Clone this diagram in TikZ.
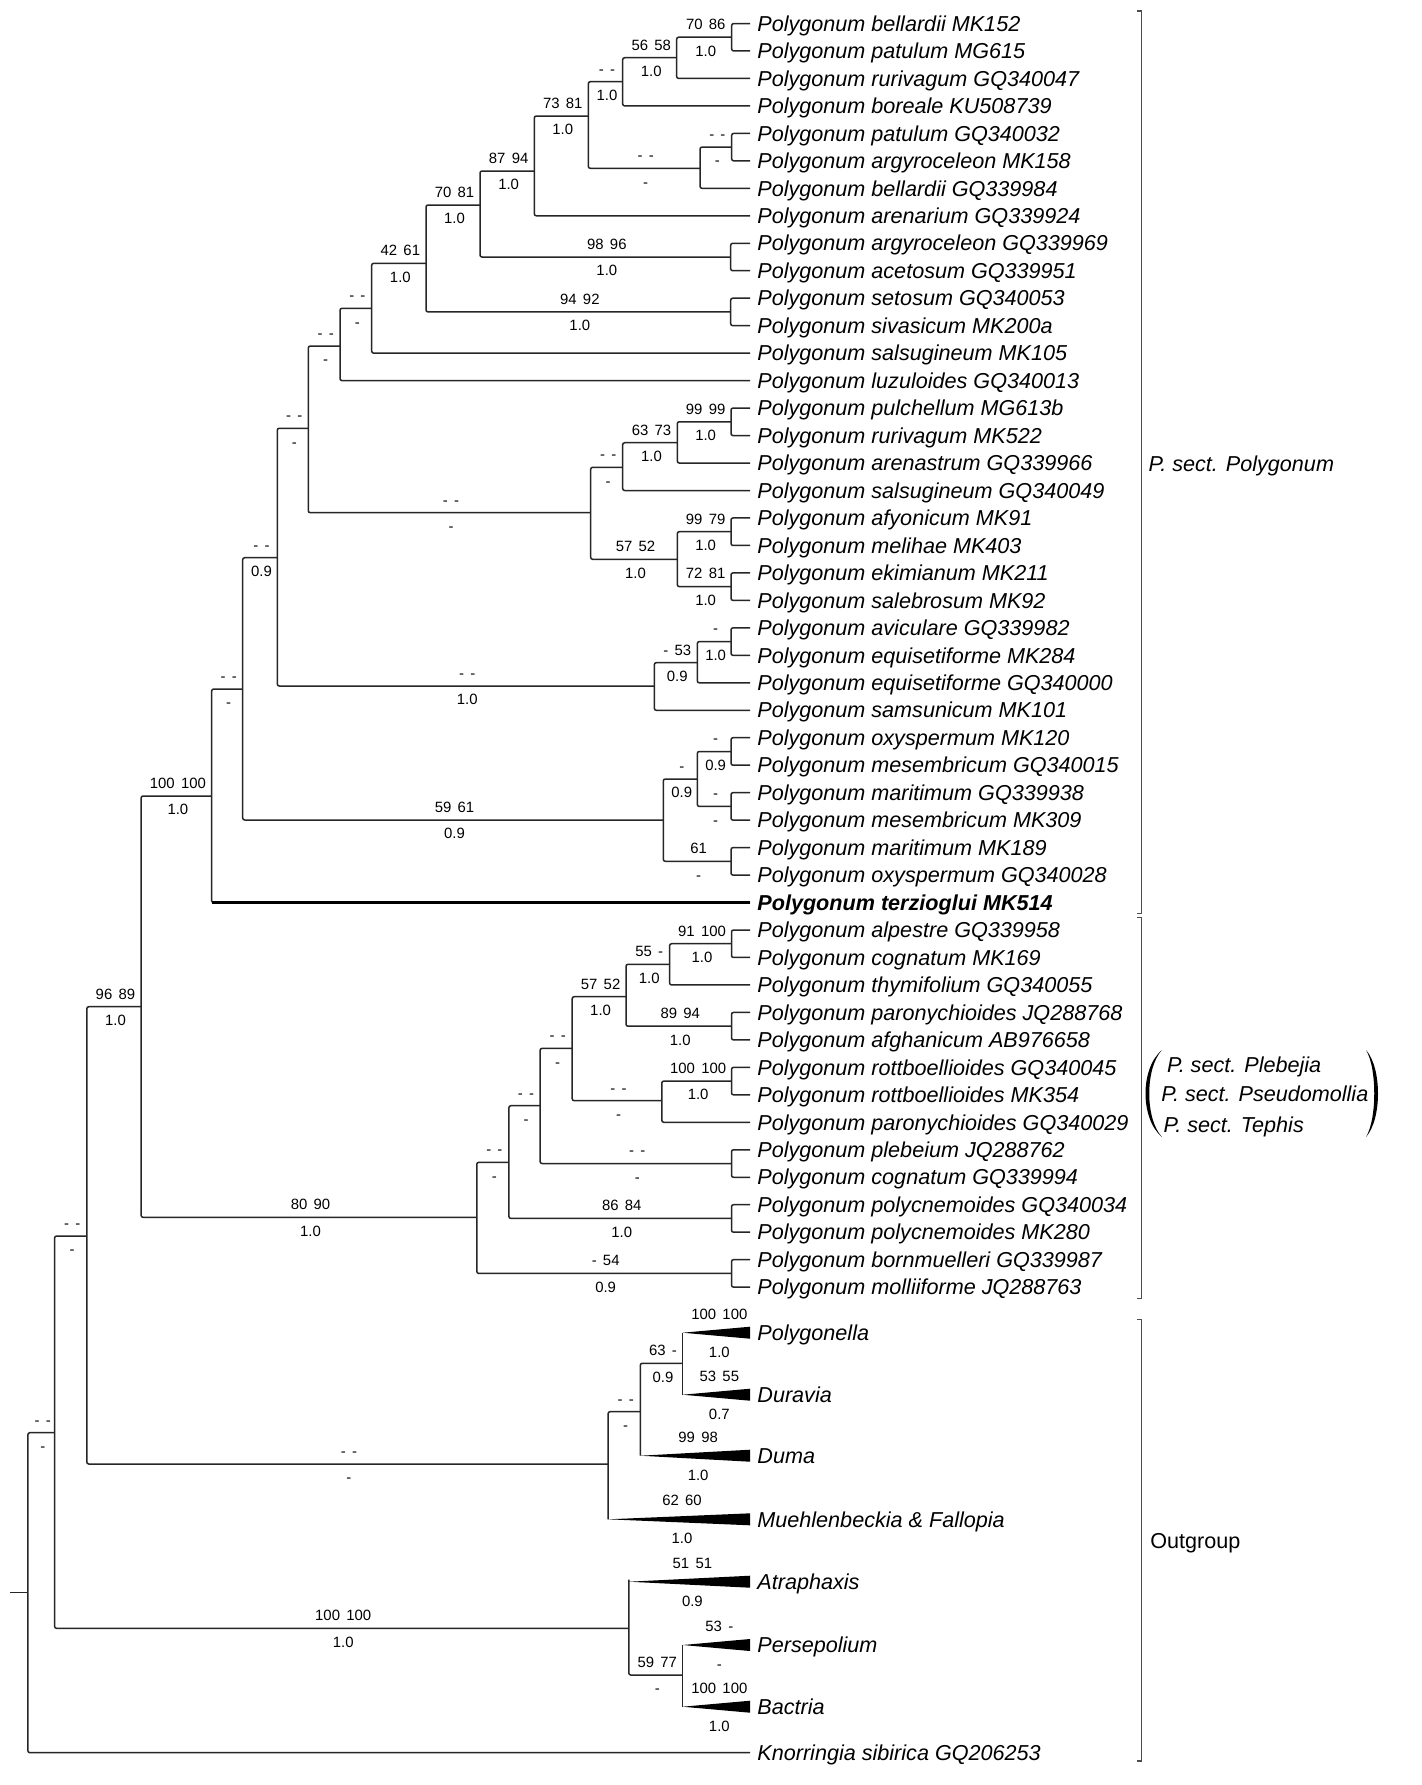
\documentclass[tikz,border=0pt]{standalone}
\usepackage{fontspec}
\setmainfont{Liberation Sans}
\newcommand\tipfont{\fontsize{10.8pt}{12pt}\selectfont\itshape}
\newcommand\numfont{\fontsize{7.45pt}{8pt}\selectfont}
\newcommand\sepx{\hspace{0.42em}}
\newcommand\bsl[6]{\node[num] (#1u) at ({(#2+#3)/2+1.5},{#4-13}) {#5};\node[num] (#1d) at ({(#2+#3)/2+1.5},{#4+13.5}) {#6};}
\newcommand\tsl[6]{\node[num] (#1u) at ({(#2+#3)/2+3},{#4-19}) {#5};\node[num] (#1d) at ({(#2+#3)/2+3},{#4+19}) {#6};}
\begin{document}
\begin{tikzpicture}[x=0.5pt,y=-0.5pt,
 br/.style={draw=black!85, line width=0.75pt, rounded corners=1pt},
 tip/.style={anchor=west, inner xsep=3.5pt, inner ysep=0pt, text height=7.7pt, text depth=0pt, font=\tipfont},
 grp/.style={anchor=west, inner sep=0pt, text height=7.7pt, text depth=0pt, font=\fontsize{10.8pt}{12pt}\selectfont},
 num/.style={inner sep=0pt, text height=5.33pt, text depth=0pt, font=\numfont},
 brk/.style={draw=black!70, line width=0.75pt}]
\fill[white] (0,0) rectangle (1421,1785);
\useasboundingbox (0,0) rectangle (1421,1785);
% ---------- tips ----------
\node[tip] (t1) at (750,23.5) {Polygonum bellardii MK152};
\node[tip] (t2) at (750,50.97) {Polygonum patulum MG615};
\node[tip] (t3) at (750,78.44) {Polygonum rurivagum GQ340047};
\node[tip] (t4) at (750,105.91) {Polygonum boreale KU508739};
\node[tip] (t5) at (750,133.38) {Polygonum patulum GQ340032};
\node[tip] (t6) at (750,160.85) {Polygonum argyroceleon MK158};
\node[tip] (t7) at (750,188.32) {Polygonum bellardii GQ339984};
\node[tip] (t8) at (750,215.79) {Polygonum arenarium GQ339924};
\node[tip] (t9) at (750,243.26) {Polygonum argyroceleon GQ339969};
\node[tip] (t10) at (750,270.73) {Polygonum acetosum GQ339951};
\node[tip] (t11) at (750,298.2) {Polygonum setosum GQ340053};
\node[tip] (t12) at (750,325.67) {Polygonum sivasicum MK200a};
\node[tip] (t13) at (750,353.14) {Polygonum salsugineum MK105};
\node[tip] (t14) at (750,380.61) {Polygonum luzuloides GQ340013};
\node[tip] (t15) at (750,408.08) {Polygonum pulchellum MG613b};
\node[tip] (t16) at (750,435.55) {Polygonum rurivagum MK522};
\node[tip] (t17) at (750,463.02) {Polygonum arenastrum GQ339966};
\node[tip] (t18) at (750,490.49) {Polygonum salsugineum GQ340049};
\node[tip] (t19) at (750,517.96) {Polygonum afyonicum MK91};
\node[tip] (t20) at (750,545.43) {Polygonum melihae MK403};
\node[tip] (t21) at (750,572.9) {Polygonum ekimianum MK211};
\node[tip] (t22) at (750,600.37) {Polygonum salebrosum MK92};
\node[tip] (t23) at (750,627.84) {Polygonum aviculare GQ339982};
\node[tip] (t24) at (750,655.31) {Polygonum equisetiforme MK284};
\node[tip] (t25) at (750,682.78) {Polygonum equisetiforme GQ340000};
\node[tip] (t26) at (750,710.25) {Polygonum samsunicum MK101};
\node[tip] (t27) at (750,737.72) {Polygonum oxyspermum MK120};
\node[tip] (t28) at (750,765.19) {Polygonum mesembricum GQ340015};
\node[tip] (t29) at (750,792.66) {Polygonum maritimum GQ339938};
\node[tip] (t30) at (750,820.13) {Polygonum mesembricum MK309};
\node[tip] (t31) at (750,847.6) {Polygonum maritimum MK189};
\node[tip] (t32) at (750,875.07) {Polygonum oxyspermum GQ340028};
\node[tip] (t33) at (750,902.54) {\bfseries Polygonum terzioglui MK514};
\node[tip] (t34) at (750,930.01) {Polygonum alpestre GQ339958};
\node[tip] (t35) at (750,957.48) {Polygonum cognatum MK169};
\node[tip] (t36) at (750,984.95) {Polygonum thymifolium GQ340055};
\node[tip] (t37) at (750,1012.42) {Polygonum paronychioides JQ288768};
\node[tip] (t38) at (750,1039.89) {Polygonum afghanicum AB976658};
\node[tip] (t39) at (750,1067.36) {Polygonum rottboellioides GQ340045};
\node[tip] (t40) at (750,1094.83) {Polygonum rottboellioides MK354};
\node[tip] (t41) at (750,1122.3) {Polygonum paronychioides GQ340029};
\node[tip] (t42) at (750,1149.77) {Polygonum plebeium JQ288762};
\node[tip] (t43) at (750,1177.24) {Polygonum cognatum GQ339994};
\node[tip] (t44) at (750,1204.71) {Polygonum polycnemoides GQ340034};
\node[tip] (t45) at (750,1232.18) {Polygonum polycnemoides MK280};
\node[tip] (t46) at (750,1259.65) {Polygonum bornmuelleri GQ339987};
\node[tip] (t47) at (750,1287.12) {Polygonum molliiforme JQ288763};
\node[tip] (og1) at (750,1332.7) {Polygonella};
\node[tip] (og2) at (750,1394.7) {Duravia};
\node[tip] (og3) at (750,1455.7) {Duma};
\node[tip] (og4) at (750,1519.3) {Muehlenbeckia \& Fallopia};
\node[tip] (og5) at (750,1581.7) {Atraphaxis};
\node[tip] (og6) at (750,1645) {Persepolium};
\node[tip] (og7) at (750,1706.7) {Bactria};
\node[tip] (t48) at (750,1752.7) {Knorringia sibirica GQ206253};
% ---------- internal nodes ----------
\coordinate (A) at (731.7,37.2);
\coordinate (B) at (676.7,57.7);
\coordinate (C) at (622.7,81.7);
\coordinate (D) at (731.7,147.1);
\coordinate (E) at (700,168.3);
\coordinate (F) at (588.3,116);
\coordinate (G) at (534.3,171);
\coordinate (H) at (730.7,257);
\coordinate (I) at (480,205);
\coordinate (J) at (730.7,311.9);
\coordinate (K) at (426,263.3);
\coordinate (L) at (371.7,308.3);
\coordinate (M) at (340,346);
\coordinate (N) at (308.3,428.3);
\coordinate (V) at (731,421.8);
\coordinate (U) at (677.3,442.7);
\coordinate (T) at (622.7,467.3);
\coordinate (X) at (731,531.7);
\coordinate (Y) at (731,586.6);
\coordinate (W) at (677.3,559.3);
\coordinate (S) at (590.7,512.7);
\coordinate (O) at (277.3,557.7);
\coordinate (AB) at (731,641.6);
\coordinate (AA) at (697.3,662.7);
\coordinate (Z) at (654.3,686);
\coordinate (P) at (242.7,689);
\coordinate (AE) at (731,751.5);
\coordinate (AF) at (731,806.4);
\coordinate (AD) at (697.3,779);
\coordinate (AG) at (731,861.3);
\coordinate (AC) at (663.3,820);
\coordinate (Q) at (211.7,796);
\coordinate (R) at (141.1,1006.7);
\coordinate (AL) at (731.5,943.7);
\coordinate (AC2) at (669.6,964.3);
\coordinate (PA) at (731.5,1026.2);
\coordinate (AA2) at (626,996.7);
\coordinate (RR) at (731.5,1081.1);
\coordinate (RT) at (661.8,1100.7);
\coordinate (PL4) at (572.2,1048.3);
\coordinate (PP) at (731.5,1163.5);
\coordinate (PL3) at (540.1,1105.7);
\coordinate (PC) at (731.5,1218.4);
\coordinate (PL2) at (508.9,1162.3);
\coordinate (BM) at (731.5,1273.4);
\coordinate (PL) at (476.8,1217.3);
\coordinate (ap1) at (682.7,1332.7);
\coordinate (ap2) at (682.7,1394.7);
\coordinate (ap3) at (640.3,1455.7);
\coordinate (ap4) at (608.1,1519.3);
\coordinate (ap5) at (628.8,1581.7);
\coordinate (ap6) at (682.7,1645);
\coordinate (ap7) at (682.7,1706.7);
\coordinate (OG3) at (682.7,1363.3);
\coordinate (OG2) at (640.3,1411.7);
\coordinate (OG1) at (608.1,1464);
\coordinate (OG5) at (682.7,1675);
\coordinate (OG4) at (628.8,1628.3);
\coordinate (S2) at (86.8,1236);
\coordinate (S3) at (54.6,1432.7);
\coordinate (root) at (27.9,1592.7);
\coordinate (stub) at (10,1592.7);
% ---------- branches ----------
\draw[br] (t1.west) -| (A) |- (t2.west);
\draw[br] (A) -| (B) |- (t3.west);
\draw[br] (B) -| (C) |- (t4.west);
\draw[br] (t5.west) -| (D) |- (t6.west);
\draw[br] (D) -| (E) |- (t7.west);
\draw[br] (C) -| (F) |- (E);
\draw[br] (F) -| (G) |- (t8.west);
\draw[br] (t9.west) -| (H) |- (t10.west);
\draw[br] (G) -| (I) |- (H);
\draw[br] (t11.west) -| (J) |- (t12.west);
\draw[br] (I) -| (K) |- (J);
\draw[br] (K) -| (L) |- (t13.west);
\draw[br] (L) -| (M) |- (t14.west);
\draw[br] (M) -| (N) |- (S);
\draw[br] (t15.west) -| (V) |- (t16.west);
\draw[br] (V) -| (U) |- (t17.west);
\draw[br] (U) -| (T) |- (t18.west);
\draw[br] (t19.west) -| (X) |- (t20.west);
\draw[br] (t21.west) -| (Y) |- (t22.west);
\draw[br] (X) -| (W) |- (Y);
\draw[br] (T) -| (S) |- (W);
\draw[br] (N) -| (O) |- (Z);
\draw[br] (t23.west) -| (AB) |- (t24.west);
\draw[br] (AB) -| (AA) |- (t25.west);
\draw[br] (AA) -| (Z) |- (t26.west);
\draw[br] (O) -| (P) |- (AC);
\draw[br] (t27.west) -| (AE) |- (t28.west);
\draw[br] (t29.west) -| (AF) |- (t30.west);
\draw[br] (AE) -| (AD) |- (AF);
\draw[br] (t31.west) -| (AG) |- (t32.west);
\draw[br] (AD) -| (AC) |- (AG);
\draw[br] (P) -| (Q) |- (t33.west);
\draw[line width=1.2pt] (t33.west -| Q) -- (t33.west);
\draw[br] (Q) -| (R) |- (PL);
\draw[br] (t34.west) -| (AL) |- (t35.west);
\draw[br] (AL) -| (AC2) |- (t36.west);
\draw[br] (t37.west) -| (PA) |- (t38.west);
\draw[br] (AC2) -| (AA2) |- (PA);
\draw[br] (t39.west) -| (RR) |- (t40.west);
\draw[br] (RR) -| (RT) |- (t41.west);
\draw[br] (AA2) -| (PL4) |- (RT);
\draw[br] (t42.west) -| (PP) |- (t43.west);
\draw[br] (PL4) -| (PL3) |- (PP);
\draw[br] (t44.west) -| (PC) |- (t45.west);
\draw[br] (PL3) -| (PL2) |- (PC);
\draw[br] (t46.west) -| (BM) |- (t47.west);
\draw[br] (PL2) -| (PL) |- (BM);
% outgroup
\draw[br] (ap1) -- (ap2);
\draw[br] (OG3) -| (OG2) |- (ap3);
\draw[br] (OG2) -| (OG1) |- (ap4);
\draw[br] (R) -| (S2) |- (OG1);
\draw[br] (ap6) -- (ap7);
\draw[br] (ap5) -| (OG4) |- (OG5);
\draw[br] (S2) -| (S3) |- (OG4);
\draw[br] (S3) -| (root) |- (t48.west);
\draw[br] (stub) -- (root);
\foreach \a/\t in {ap1/og1,ap2/og2,ap3/og3,ap4/og4,ap5/og5,ap6/og6,ap7/og7}{
  \fill (\a) -- ([yshift=3pt]\t.west) -- ([yshift=-3pt]\t.west) -- cycle;}
% ---------- support labels ----------
\bsl{A}{676.7}{731.7}{37.2}{70\sepx86}{1.0}
\bsl{B}{622.7}{676.7}{57.7}{56\sepx58}{1.0}
\bsl{C}{588.3}{622.7}{81.7}{-\sepx-}{1.0}
\bsl{D}{700}{731.7}{147.1}{-\sepx-}{-}
\bsl{E}{588.3}{700}{168.3}{-\sepx-}{-}
\bsl{F}{534.3}{588.3}{116}{73\sepx81}{1.0}
\bsl{G}{480}{534.3}{171}{87\sepx94}{1.0}
\bsl{H}{480}{730.7}{257}{98\sepx96}{1.0}
\bsl{I}{426}{480}{205}{70\sepx81}{1.0}
\bsl{J}{426}{730.7}{311.9}{94\sepx92}{1.0}
\bsl{K}{371.7}{426}{263.3}{42\sepx61}{1.0}
\bsl{L}{340}{371.7}{308.3}{-\sepx-}{-}
\bsl{M}{308.3}{340}{346}{-\sepx-}{-}
\bsl{N}{277.3}{308.3}{428.3}{-\sepx-}{-}
\bsl{S}{308.3}{590.7}{512.7}{-\sepx-}{-}
\bsl{T}{590.7}{622.7}{467.3}{-\sepx-}{-}
\bsl{U}{622.7}{677.3}{442.7}{63\sepx73}{1.0}
\bsl{V}{677.3}{731}{421.8}{99\sepx99}{1.0}
\bsl{W}{590.7}{677.3}{559.3}{57\sepx52}{1.0}
\bsl{X}{677.3}{731}{531.7}{99\sepx79}{1.0}
\bsl{Y}{677.3}{731}{586.6}{72\sepx81}{1.0}
\bsl{O}{242.7}{277.3}{557.7}{-\sepx-}{0.9}
\bsl{Z}{277.3}{654.3}{686}{-\sepx-}{1.0}
\bsl{AA}{654.3}{697.3}{662.7}{-\sepx53}{0.9}
\bsl{AB}{697.3}{731}{641.6}{-}{1.0}
\bsl{P}{211.7}{242.7}{689}{-\sepx-}{-}
\bsl{AC}{242.7}{663.3}{820}{59\sepx61}{0.9}
\bsl{AD}{663.3}{697.3}{779}{-}{0.9}
\bsl{AE}{697.3}{731}{751.5}{-}{0.9}
\bsl{AF}{697.3}{731}{806.4}{-}{-}
\bsl{AG}{663.3}{731}{861.3}{61}{-}
\bsl{Q}{141.1}{211.7}{796}{100\sepx100}{1.0}
\bsl{R}{86.8}{141.1}{1006.7}{96\sepx89}{1.0}
\bsl{PL}{141.1}{476.8}{1217.3}{80\sepx90}{1.0}
\bsl{PLb}{476.8}{508.9}{1162.3}{-\sepx-}{-}
\bsl{PLc}{508.9}{540.1}{1105.7}{-\sepx-}{-}
\bsl{PLd}{540.1}{572.2}{1048.3}{-\sepx-}{-}
\bsl{AAb}{572.2}{626}{996.7}{57\sepx52}{1.0}
\bsl{ACb}{626}{669.6}{964.3}{55\sepx-}{1.0}
\bsl{AL}{669.6}{731.5}{943.7}{91\sepx100}{1.0}
\bsl{PA}{626}{731.5}{1026.2}{89\sepx94}{1.0}
\bsl{RT}{572.2}{661.8}{1100.7}{-\sepx-}{-}
\bsl{RR}{661.8}{731.5}{1081.1}{100\sepx100}{1.0}
\bsl{PP}{540.1}{731.5}{1163.5}{-\sepx-}{-}
\bsl{PC}{508.9}{731.5}{1218.4}{86\sepx84}{1.0}
\bsl{BM}{476.8}{731.5}{1273.4}{-\sepx54}{0.9}
\bsl{SB}{54.6}{86.8}{1236}{-\sepx-}{-}
\bsl{SC}{27.9}{54.6}{1432.7}{-\sepx-}{-}
\bsl{OGa}{86.8}{608.1}{1464}{-\sepx-}{-}
\bsl{OGb}{608.1}{640.3}{1411.7}{-\sepx-}{-}
\bsl{OGc}{640.3}{682.7}{1363.3}{63\sepx-}{0.9}
\bsl{OGd}{54.6}{628.8}{1628.3}{100\sepx100}{1.0}
\bsl{OGe}{628.8}{682.7}{1675}{59\sepx77}{-}
\tsl{TRa}{682.7}{750}{1332.7}{100\sepx100}{1.0}
\tsl{TRb}{682.7}{750}{1394.7}{53\sepx55}{0.7}
\tsl{TRc}{640.3}{750}{1455.7}{99\sepx98}{1.0}
\tsl{TRd}{608.1}{750}{1519.3}{62\sepx60}{1.0}
\tsl{TRe}{628.8}{750}{1581.7}{51\sepx51}{0.9}
\tsl{TRf}{682.7}{750}{1645}{53\sepx-}{-}
\tsl{TRg}{682.7}{750}{1706.7}{100\sepx100}{1.0}
% ---------- brackets ----------
\draw[brk] (1137.3,11.1) -- (1141.7,11.1) -- (1141.7,913.3) -- (1137.3,913.3);
\draw[brk] (1137.3,917.5) -- (1141.7,917.5) -- (1141.7,1298.4) -- (1137.3,1298.4);
\draw[brk] (1137.3,1319.7) -- (1141.7,1319.7) -- (1141.7,1761) -- (1137.3,1761);
\node[grp, font=\tipfont] (gpoly) at (1148.3,463.4) {P. sect. Polygonum};
\node[grp, font=\tipfont] (gpleb) at (1166.7,1064.7) {P. sect. Plebejia};
\node[grp, font=\tipfont] (gpseu) at (1161,1093.5) {P. sect. Pseudomollia};
\node[grp, font=\tipfont] (gteph) at (1163.3,1125.2) {P. sect. Tephis};
\node[grp] (gout) at (1150,1540.7) {Outgroup};
\fill (1162,1050) .. controls (1140,1068) and (1140,1119) .. (1162,1137)
  .. controls (1145,1119) and (1145,1068) .. (1162,1050) -- cycle;
\fill (1366,1050) .. controls (1382,1068) and (1382,1119) .. (1366,1137)
  .. controls (1377,1119) and (1377,1068) .. (1366,1050) -- cycle;
\end{tikzpicture}
\end{document}
